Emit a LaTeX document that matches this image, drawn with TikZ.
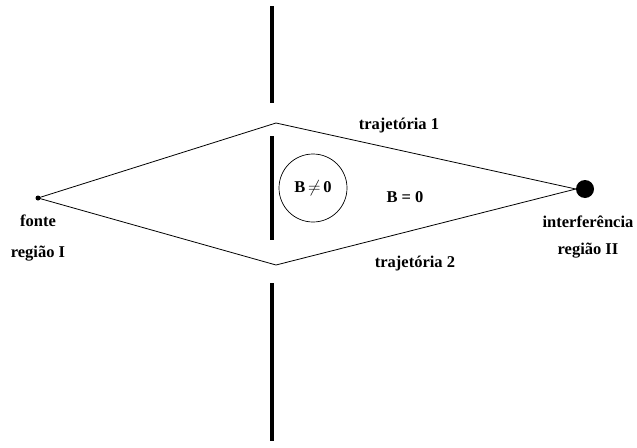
\documentclass[tikz,border=0pt]{standalone}
\usepackage{fontspec}
\setmainfont{Liberation Serif}
\usepackage{tikz}
\usetikzlibrary{positioning}

\begin{document}
\begin{tikzpicture}[x=1pt,y=-1pt,
  every node/.style={font=\bfseries\fontsize{16.5}{19}\selectfont},
  wall/.style={line width=3.5pt},
  path/.style={line width=0.8pt},
  lbl/.style={inner sep=1pt}]
\useasboundingbox (0,0) rectangle (637,447);
% screen with two slits
\draw[wall] (272,6) -- (272,103);
\draw[wall] (272,136) -- (272,240);
\draw[wall] (272,283) -- (272,441);
% source, slits and detector
\node[circle,fill,inner sep=0pt,minimum size=5pt] (src) at (38,198) {};
\coordinate (t1) at (276,123);
\coordinate (t2) at (276,265);
\node[circle,fill,inner sep=0pt,minimum size=18pt] (det) at (585,189) {};
\draw[path] (src.center) -- (t1) -- (det.west);
\draw[path] (src.center) -- (t2) -- (det.west);
% field region
\node[circle,draw,line width=0.7pt,minimum size=68pt,inner sep=0pt] (sol) at (313,188) {};
\node[lbl] (bne) at (sol) {B$\,\neq\,$0};
\node[lbl] (beq) at (405,197) {B = 0};
\node[lbl] (p1) at (399,126) {trajetória 1};
\node[lbl] (p2) at (415,264) {trajetória 2};
\node[lbl] (fonte) at (38,221) {fonte};
\node[lbl,below=17pt of fonte] (reg1) {região I};
\node[lbl] (inter) at (588,222) {interferência};
\node[lbl,below=13pt of inter] (reg2) {região II};
\end{tikzpicture}
\end{document}
